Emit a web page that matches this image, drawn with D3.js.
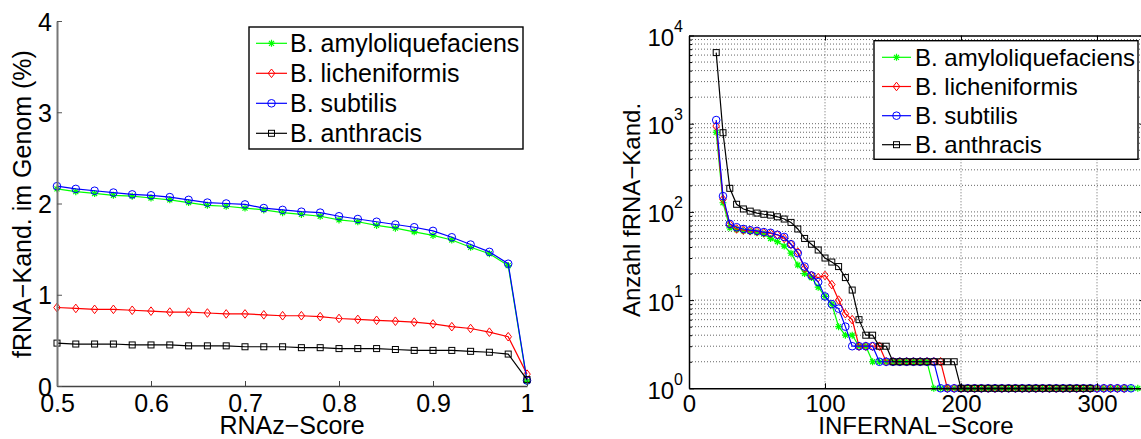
<!DOCTYPE html>
<html>
<head>
<meta charset="utf-8">
<script src="https://cdn.jsdelivr.net/npm/d3@7"></script>
<style>
  html, body { margin: 0; padding: 0; background: #fff; }
  svg { display: block; font-family: "Liberation Sans", Arial, Helvetica, sans-serif; }
</style>
</head>
<body>
<svg id="chart" width="1141" height="439"></svg>
<script>
// ---- Left panel: fraction of fRNA candidates vs RNAz score ----
const rnazScores = [0.50, 0.52, 0.54, 0.56, 0.58, 0.60, 0.62, 0.64, 0.66, 0.68, 0.70, 0.72, 0.74,
                    0.76, 0.78, 0.80, 0.82, 0.84, 0.86, 0.88, 0.90, 0.92, 0.94, 0.96, 0.98, 1.00];
const rnazAmylo = [2.16, 2.13, 2.11, 2.09, 2.08, 2.06, 2.04, 2.01, 1.98, 1.97, 1.95, 1.93, 1.90,
                   1.88, 1.86, 1.82, 1.80, 1.76, 1.73, 1.69, 1.65, 1.60, 1.52, 1.45, 1.32, 0.05];
const rnazLichen = [0.86, 0.85, 0.84, 0.84, 0.83, 0.82, 0.81, 0.81, 0.80, 0.79, 0.79, 0.78, 0.77,
                    0.77, 0.76, 0.74, 0.73, 0.72, 0.71, 0.70, 0.68, 0.65, 0.63, 0.59, 0.54, 0.13];
const rnazSubtilis = [2.19, 2.16, 2.14, 2.12, 2.10, 2.09, 2.07, 2.04, 2.01, 2.00, 1.99, 1.95, 1.93,
                      1.91, 1.90, 1.86, 1.83, 1.80, 1.77, 1.74, 1.70, 1.63, 1.55, 1.47, 1.34, 0.06];
const rnazAnthracis = [0.47, 0.46, 0.46, 0.46, 0.45, 0.45, 0.45, 0.44, 0.44, 0.44, 0.43, 0.43, 0.43,
                       0.42, 0.42, 0.41, 0.41, 0.41, 0.40, 0.39, 0.39, 0.39, 0.38, 0.37, 0.35, 0.07];
const rnazXTicks = [0.5, 0.6, 0.7, 0.8, 0.9, 1];
const rnazYTicks = [0, 1, 2, 3, 4];

// ---- Right panel: number of fRNA candidates vs INFERNAL score ----
const infernalScores = [20, 25, 30, 35, 40, 45, 50, 55, 60, 65, 70, 75, 80, 85, 90, 95, 100, 105,
  110, 115, 120, 125, 130, 135, 140, 145, 150, 155, 160, 165, 170, 175, 180, 185, 190, 195, 200,
  205, 210, 215, 220, 225, 230, 235, 240, 245, 250, 255, 260, 265, 270, 275, 280, 285, 290, 295,
  300, 305, 310, 315, 320, 325, 330];
const infAmylo = [800, 127, 66, 63, 61, 60, 58, 56, 50, 46, 41, 34, 25, 20, 18, 14, 11, 9,
  5, 4, 4, 3, 3, 2, 2, 2, 2, 2, 2, 2, 2, 2, 1, 1, 1, 1, 1,
  1, 1, 1, 1, 1, 1, 1, 1, 1, 1, 1, 1, 1, 1, 1, 1, 1, 1, 1,
  1, 1, 1, 1, 1, 1, 1];
const infLichen = [940, 139, 72, 64, 62, 61, 60, 58, 57, 55, 50, 43, 35, 23, 19, 18, 19, 15,
  10, 7, 6, 3, 3, 3, 3, 2, 2, 2, 2, 2, 2, 2, 2, 2, 1, 1, 1,
  1, 1, 1, 1, 1, 1, 1, 1, 1, 1, 1, 1, 1, 1, 1, 1, 1, 1, 1,
  1, 1, 1, 1, 1];
const infSubtilis = [1100, 151, 73, 67, 64, 62, 61, 59, 58, 55, 52, 43, 34, 24, 19, 16, 11, 9,
  8, 5, 3, 3, 3, 3, 2, 2, 2, 2, 2, 2, 2, 2, 2, 1, 1, 1, 1,
  1, 1, 1, 1, 1, 1, 1, 1, 1, 1, 1, 1, 1, 1, 1, 1, 1, 1, 1,
  1, 1, 1, 1, 1, 1];
const infAnthracis = [6400, 790, 185, 122, 108, 102, 97, 94, 92, 88, 83, 76, 64, 50, 43, 37, 30, 27,
  24, 18, 13, 6, 4, 4, 3, 3, 2, 2, 2, 2, 2, 2, 2, 2, 2, 2, 1,
  1, 1, 1, 1, 1, 1, 1, 1, 1, 1, 1, 1, 1, 1, 1, 1, 1, 1, 1];
const infXTicks = [0, 100, 200, 300];
const infYTicks = [1, 10, 100, 1000, 10000];
const infYExponents = ["0", "1", "2", "3", "4"];
const infYMinor = [2, 3, 4, 5, 6, 7, 8, 9, 20, 30, 40, 50, 60, 70, 80, 90, 200, 300, 400, 500, 600,
  700, 800, 900, 2000, 3000, 4000, 5000, 6000, 7000, 8000, 9000];

const speciesNames = ["B. amyloliquefaciens", "B. licheniformis", "B. subtilis", "B. anthracis"];
const speciesColors = ["#00ff00", "#ff0000", "#0000ff", "#000000"];
const speciesMarkers = ["star", "diamond", "circle", "square"];

const svg = d3.select("#chart");

// marker drawing: MATLAB-like '*', 'd', 'o', 's'
function drawMarker(g, type, color, cx, cy) {
  if (type === "circle") {
    g.append("circle").attr("cx", cx).attr("cy", cy).attr("r", 3.8)
      .attr("fill", "none").attr("stroke", color).attr("stroke-width", 1);
  } else if (type === "diamond") {
    g.append("path").attr("transform", `translate(${cx},${cy})`)
      .attr("d", "M0,-4.3L3.3,0L0,4.3L-3.3,0Z")
      .attr("fill", "none").attr("stroke", color).attr("stroke-width", 1);
  } else if (type === "square") {
    g.append("rect").attr("x", cx - 3).attr("y", cy - 3).attr("width", 6).attr("height", 6)
      .attr("fill", "none").attr("stroke", color).attr("stroke-width", 1);
  } else {
    g.append("path").attr("transform", `translate(${cx},${cy})`)
      .attr("d", "M-3.5,0H3.5M0,-3.5V3.5M-2.5,-2.5L2.5,2.5M-2.5,2.5L2.5,-2.5")
      .attr("fill", "none").attr("stroke", color).attr("stroke-width", 1.2);
  }
}

function drawSeries(g, xs, ys, x, y, color, marker) {
  const pts = ys.map((v, i) => [xs[i], v]);
  const line = d3.line().x(d => x(d[0])).y(d => y(d[1]));
  g.append("path").datum(pts).attr("d", line)
    .attr("fill", "none").attr("stroke", color).attr("stroke-width", 1.2);
  const mg = g.append("g");
  pts.forEach(p => drawMarker(mg, marker, color, x(p[0]), y(p[1])));
}

function drawLegend(g, x0, y0, w, h, rowY, fontSize, lineX0, lineX1, textX) {
  g.append("rect").attr("x", x0).attr("y", y0).attr("width", w).attr("height", h)
    .attr("fill", "#fff").attr("stroke", "#000").attr("stroke-width", 1.4);
  speciesNames.forEach((name, i) => {
    const cy = rowY[i];
    g.append("line").attr("x1", lineX0).attr("x2", lineX1).attr("y1", cy).attr("y2", cy)
      .attr("stroke", speciesColors[i]).attr("stroke-width", 1.2);
    drawMarker(g, speciesMarkers[i], speciesColors[i], (lineX0 + lineX1) / 2, cy);
    g.append("text").attr("x", textX).attr("y", cy + fontSize * 0.36)
      .attr("font-size", fontSize).attr("fill", "#000").text(name);
  });
}

// ================= Left panel =================
{
  const x = d3.scaleLinear().domain([0.5, 1]).range([57, 527]);
  const y = d3.scaleLinear().domain([0, 4]).range([386, 21]);
  const g = svg.append("g");

  const series = [rnazAmylo, rnazLichen, rnazSubtilis, rnazAnthracis];
  series.forEach((s, i) => drawSeries(g, rnazScores, s, x, y, speciesColors[i], speciesMarkers[i]));

  const xAxis = g.append("g").attr("transform", "translate(0,386)")
    .call(d3.axisBottom(x).tickValues(rnazXTicks).tickFormat(d => String(d))
      .tickSizeInner(-5).tickSizeOuter(0).tickPadding(8));
  xAxis.select(".domain").attr("stroke", "#444").attr("stroke-width", 1.6);
  xAxis.selectAll(".tick line").attr("stroke", "#444");
  xAxis.selectAll("text").attr("font-size", 25).attr("fill", "#000")
    .attr("font-family", "Liberation Sans, Arial, sans-serif");

  const yAxis = g.append("g").attr("transform", "translate(57,0)")
    .call(d3.axisLeft(y).tickValues(rnazYTicks).tickFormat(d => String(d))
      .tickSizeInner(-5).tickSizeOuter(0).tickPadding(5));
  yAxis.select(".domain").attr("stroke", "#777").attr("stroke-width", 2);
  yAxis.selectAll(".tick line").attr("stroke", "#555");
  yAxis.selectAll("text").attr("font-size", 25).attr("fill", "#000").attr("dy", "0.36em")
    .attr("font-family", "Liberation Sans, Arial, sans-serif");

  g.append("text").attr("x", 292).attr("y", 434).attr("text-anchor", "middle")
    .attr("font-size", 25).text("RNAz\u2212Score");
  g.append("text").attr("transform", "translate(31,204) rotate(-90)")
    .attr("text-anchor", "middle").attr("font-size", 25).text("fRNA\u2212Kand. im Genom (%)");

  drawLegend(g, 249, 27, 274, 122, [43.3, 73.3, 103.3, 133.3], 25, 256, 287, 290);
}

// ================= Right panel =================
{
  const x = d3.scaleLinear().domain([0, 335]).range([689, 689 + 335 * 1.36]);
  const y = d3.scaleLog().domain([1, 10000]).range([388.3, 35.5]);
  const g = svg.append("g");
  const [x0, x1] = x.range();
  const [yb, yt] = y.range();

  // dotted grid
  const grid = g.append("g").attr("stroke", "#666").attr("stroke-width", 1)
    .attr("stroke-dasharray", "1,2");
  infXTicks.filter(t => t > 0).forEach(t => {
    grid.append("line").attr("x1", x(t)).attr("x2", x(t)).attr("y1", yb).attr("y2", yt);
  });
  infYTicks.concat(infYMinor).filter(t => t > 1 && t < 10000).forEach(t => {
    grid.append("line").attr("x1", x0).attr("x2", x1).attr("y1", y(t)).attr("y2", y(t));
  });

  const series = [infAmylo, infLichen, infSubtilis, infAnthracis];
  series.forEach((s, i) => drawSeries(g, infernalScores, s, x, y, speciesColors[i], speciesMarkers[i]));

  const axFont = "Liberation Sans, Arial, sans-serif";
  const xAxis = g.append("g").attr("transform", `translate(0,${yb})`)
    .call(d3.axisBottom(x).tickValues(infXTicks).tickFormat(d => String(d))
      .tickSizeInner(-5).tickSizeOuter(0).tickPadding(7));
  xAxis.select(".domain").attr("stroke", "#000").attr("stroke-width", 1.5);
  xAxis.selectAll("text").attr("font-size", 24).attr("fill", "#000").attr("font-family", axFont);

  g.append("g").attr("transform", `translate(0,${yt})`)
    .call(d3.axisTop(x).tickValues(infXTicks).tickFormat("")
      .tickSizeInner(-5).tickSizeOuter(0))
    .select(".domain").attr("stroke", "#000").attr("stroke-width", 1.5);

  const yAxis = g.append("g").attr("transform", `translate(${x0},0)`)
    .call(d3.axisLeft(y).tickValues(infYTicks).tickFormat("")
      .tickSizeInner(-5).tickSizeOuter(0).tickPadding(6));
  yAxis.select(".domain").attr("stroke", "#000").attr("stroke-width", 1.5);
  yAxis.selectAll(".tick").each(function (d, i) {
    const t = d3.select(this).append("text").attr("x", -6).attr("y", 0)
      .attr("text-anchor", "end").attr("fill", "#000").attr("font-family", axFont);
    t.append("tspan").attr("font-size", 24).attr("dy", 10).text("10");
    t.append("tspan").attr("font-size", 16).attr("dy", -14).text(infYExponents[i]);
  });
  g.append("g").attr("transform", `translate(${x0},0)`)
    .call(d3.axisLeft(y).tickValues(infYMinor).tickFormat("").tickSizeInner(-3).tickSizeOuter(0))
    .select(".domain").remove();

  const yAxisR = g.append("g").attr("transform", `translate(${x1},0)`)
    .call(d3.axisRight(y).tickValues(infYTicks).tickFormat("").tickSizeInner(-5).tickSizeOuter(0));
  yAxisR.select(".domain").attr("stroke", "#000").attr("stroke-width", 1.5);
  g.append("g").attr("transform", `translate(${x1},0)`)
    .call(d3.axisRight(y).tickValues(infYMinor).tickFormat("").tickSizeInner(-3).tickSizeOuter(0))
    .select(".domain").remove();

  g.append("text").attr("x", 916).attr("y", 434).attr("text-anchor", "middle")
    .attr("font-size", 24).text("INFERNAL\u2212Score");
  g.append("text").attr("transform", "translate(640,210) rotate(-90)")
    .attr("text-anchor", "middle").attr("font-size", 24).text("Anzahl fRNA\u2212Kand.");

  drawLegend(g, 874, 40.7, 264, 118.6, [57.3, 86.5, 115.7, 144.7], 24, 882, 911, 915);
}
</script>
</body>
</html>
